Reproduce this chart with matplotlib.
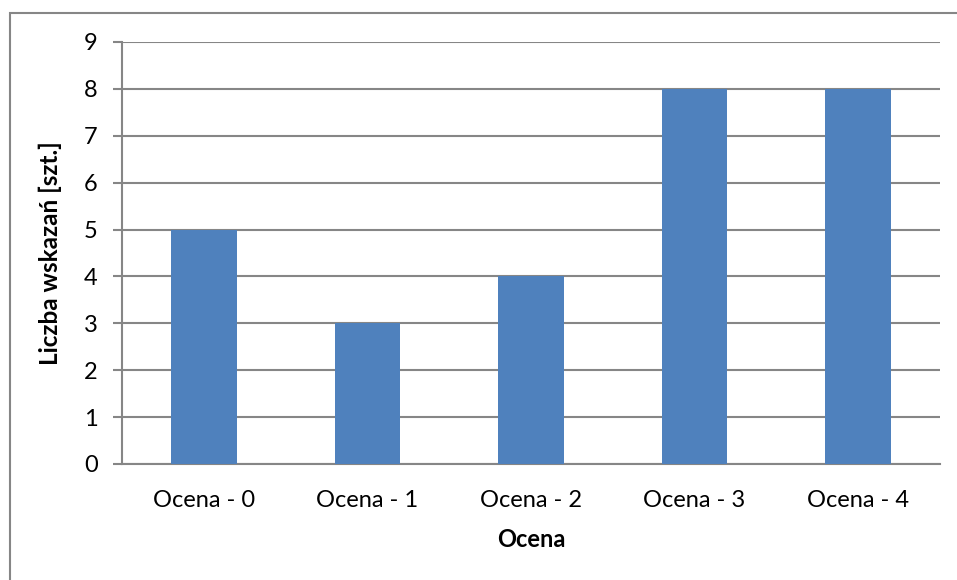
import matplotlib.pyplot as plt
from matplotlib.patches import Rectangle

categories = ["Ocena - 0", "Ocena - 1", "Ocena - 2", "Ocena - 3", "Ocena - 4"]
counts = [5, 3, 4, 8, 8]
y_ticks = list(range(0, 10))

plt.rcParams["font.family"] = ["Lato", "DejaVu Sans"]

W, H = 957, 580
fig = plt.figure(figsize=(W / 100, H / 100), dpi=100)
ax = fig.add_axes([122 / W, 1 - 464 / H, (940 - 122) / W, (464 - 42) / H])

grid_col = "#868686"
ax.bar(range(len(categories)), counts, width=0.4, color="#4F81BD", zorder=3)
ax.set_xlim(-0.5, len(categories) - 0.5)
ax.set_ylim(0, 9)
ax.set_yticks(y_ticks)
ax.set_xticks(range(len(categories)))
ax.set_xticklabels(categories)
ax.yaxis.grid(True, color=grid_col, linewidth=1.5, zorder=0)
ax.set_axisbelow(True)

for side in ["top", "right"]:
    ax.spines[side].set_visible(False)
for side in ["left", "bottom"]:
    ax.spines[side].set_color(grid_col)
    ax.spines[side].set_linewidth(1.5)

ax.tick_params(axis="y", length=6.5, width=1.5, color=grid_col, pad=11, labelsize=17)
ax.tick_params(axis="x", length=0, pad=19, labelsize=17)

ax.set_ylabel("Liczba wskazań [szt.]", fontsize=17.5, fontweight="bold", labelpad=16)
ax.set_xlabel("Ocena", fontsize=17, fontweight="bold", labelpad=12)

# chart area border (Excel style)
fig.patches.append(Rectangle((9.5 / W, -0.1), 1.2, 1 - 12.5 / H + 0.1,
                             transform=fig.transFigure, fill=False,
                             edgecolor=grid_col, linewidth=1.5))

fig.savefig("out.png", dpi=100)
